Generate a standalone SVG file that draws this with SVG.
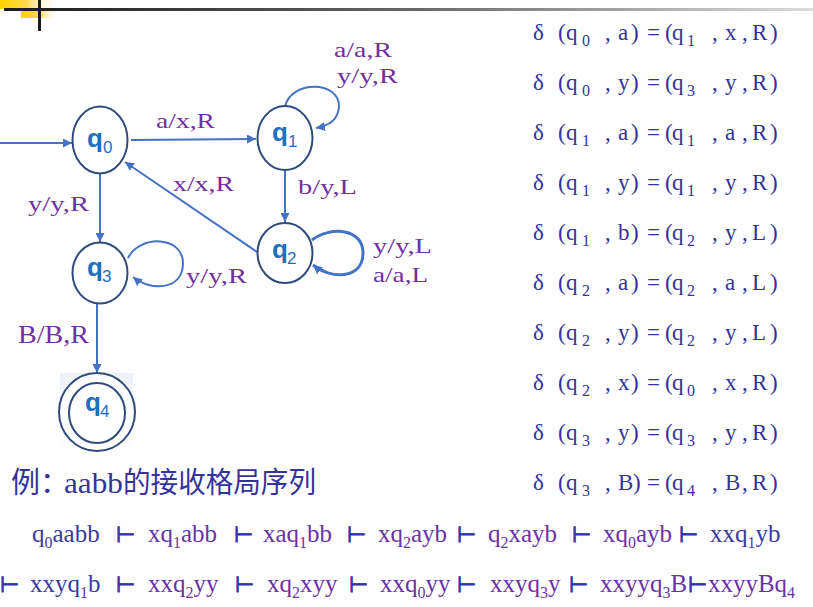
<svg xmlns="http://www.w3.org/2000/svg" width="813" height="607" viewBox="0 0 813 607">
<style>
.node{fill:#fff;stroke:#2f4b7c;stroke-width:2}
.edge{fill:none;stroke:#4472c4;stroke-width:2}
.nl{font-family:"Liberation Sans",Arial,sans-serif;font-weight:bold;font-size:26px;fill:#1f6fc0}
.ns{font-family:"Liberation Sans",Arial,sans-serif;font-weight:normal;font-size:17px;fill:#1f6fc0}
.el{font-family:"Liberation Serif","Times New Roman",serif;font-size:22px;fill:#7030a0}
.tb{font-family:"Liberation Serif","DejaVu Serif",serif;font-size:23px;fill:#33339a}
.tb .sb{font-size:16px}
.cf{font-family:"Liberation Serif","Times New Roman",serif;font-size:25px}
.cf .sb{font-size:16px}
.bl{fill:#3a3aa0}
.pu{fill:#6a32a6}
.ts{font-family:"DejaVu Sans",sans-serif;font-size:22px;fill:#3434a8;stroke:#3434a8;stroke-width:0.9}
.title{font-size:29px;fill:#33339a}
.cjk{font-family:"Noto Sans CJK SC","Liberation Serif",serif}
.lat{font-family:"Liberation Serif","Times New Roman",serif}
</style>
<defs>
<marker id="ah" markerUnits="userSpaceOnUse" markerWidth="10" markerHeight="9" refX="9" refY="4.5" orient="auto">
<path d="M0,0 L9,4.5 L0,9 z" fill="#4472c4"/>
</marker>
<linearGradient id="bar" x1="0" y1="0" x2="1" y2="0">
<stop offset="0" stop-color="#1a1a1a"/>
<stop offset="0.5" stop-color="#666"/>
<stop offset="1" stop-color="#dcdcdc"/>
</linearGradient>
<linearGradient id="yel" x1="0" y1="0" x2="1" y2="0">
<stop offset="0" stop-color="#ffd200"/>
<stop offset="0.45" stop-color="#ffd84a"/>
<stop offset="1" stop-color="#fff" stop-opacity="0"/>
</linearGradient>
<linearGradient id="fade" x1="0" y1="0" x2="0" y2="1">
<stop offset="0" stop-color="#eef1f8"/>
<stop offset="1" stop-color="#fff"/>
</linearGradient>
</defs>
<rect width="813" height="607" fill="#fff"/>
<g id="decor">
<rect x="0" y="0" width="58" height="9" fill="url(#yel)"/>
<rect x="21" y="9" width="38" height="9" fill="url(#yel)"/>
<rect x="4" y="8" width="809" height="3" fill="url(#bar)"/>
<rect x="38" y="0" width="3" height="31" fill="#1a1a1a"/>
</g>
<g id="connectors">
<path class="edge" d="M0,143 L72,143" marker-end="url(#ah)"/>
<path class="edge" d="M131,140 L256,139" marker-end="url(#ah)"/>
<path class="edge" d="M285,107 C290,80 340,80 339,107 C338,120 328,126 316,128" marker-end="url(#ah)"/>
<path class="edge" d="M285,170 L285,222" marker-end="url(#ah)"/>
<path class="edge" d="M257,252 L125,162" marker-end="url(#ah)"/>
<path class="edge" style="stroke-width:3" d="M312,240 C330,226 364,228 363,254 C362,280 330,279 313,265" marker-end="url(#ah)"/>
<path class="edge" d="M100,174 L100,242" marker-end="url(#ah)"/>
<path class="edge" d="M128,258 C140,234 184,236 183,264 C182,291 150,291 133,277" marker-end="url(#ah)"/>
<path class="edge" d="M97,304 L97,373" marker-end="url(#ah)"/>
</g>
<g id="edge-labels">
<text class="el" x="334" y="57" textLength="58" lengthAdjust="spacingAndGlyphs">a/a,R</text>
<text class="el" x="337" y="83" textLength="61" lengthAdjust="spacingAndGlyphs">y/y,R</text>
<text class="el" x="156" y="128" textLength="59" lengthAdjust="spacingAndGlyphs">a/x,R</text>
<text class="el" x="173" y="191" textLength="61" lengthAdjust="spacingAndGlyphs">x/x,R</text>
<text class="el" x="298" y="194" textLength="59" lengthAdjust="spacingAndGlyphs">b/y,L</text>
<text class="el" x="28" y="211" textLength="61" lengthAdjust="spacingAndGlyphs">y/y,R</text>
<text class="el" x="186" y="283" textLength="61" lengthAdjust="spacingAndGlyphs">y/y,R</text>
<text class="el" x="373" y="253" textLength="59" lengthAdjust="spacingAndGlyphs">y/y,L</text>
<text class="el" x="373" y="282" textLength="55" lengthAdjust="spacingAndGlyphs">a/a,L</text>
<text class="el" x="18" y="343" style="font-size:26px" textLength="71" lengthAdjust="spacingAndGlyphs">B/B,R</text>
</g>
<g id="q0">
<ellipse class="node" cx="100" cy="140" rx="27.5" ry="33.5"/>
<text class="nl" x="87" y="147">q<tspan class="ns" x="103" y="153">0</tspan></text>
</g>
<g id="q1">
<ellipse class="node" cx="285" cy="138" rx="27.5" ry="32"/>
<text class="nl" x="272" y="141">q<tspan class="ns" x="288" y="147">1</tspan></text>
</g>
<g id="q2">
<ellipse class="node" cx="285" cy="253" rx="27.5" ry="30"/>
<text class="nl" x="272" y="258">q<tspan class="ns" x="287" y="264">2</tspan></text>
</g>
<g id="q3">
<ellipse class="node" cx="100" cy="273" rx="27.5" ry="30.5"/>
<text class="nl" x="87" y="276">q<tspan class="ns" x="102" y="282">3</tspan></text>
</g>
<g id="q4">
<rect x="60" y="373" width="73" height="78" fill="url(#fade)"/>
<ellipse class="node" cx="97" cy="412" rx="38" ry="39"/>
<ellipse class="node" cx="97" cy="413" rx="28" ry="30" fill="none"/>
<text class="nl" x="85" y="411">q<tspan class="ns" x="100" y="417">4</tspan></text>
</g>
<g id="delta-table" class="tb">
<text y="40"><tspan x="533">δ</tspan><tspan x="558">(</tspan><tspan x="566">q</tspan><tspan class="sb" x="582" y="46">0</tspan><tspan x="605" y="40">,</tspan><tspan x="618">a</tspan><tspan x="631">)</tspan><tspan x="647">=</tspan><tspan x="665">(</tspan><tspan x="672">q</tspan><tspan class="sb" x="687" y="46">1</tspan><tspan x="712" y="40">,</tspan><tspan x="725">x</tspan><tspan x="742">,</tspan><tspan x="752">R</tspan><tspan x="770">)</tspan></text>
<text y="90"><tspan x="533">δ</tspan><tspan x="558">(</tspan><tspan x="566">q</tspan><tspan class="sb" x="582" y="96">0</tspan><tspan x="605" y="90">,</tspan><tspan x="618">y</tspan><tspan x="631">)</tspan><tspan x="647">=</tspan><tspan x="665">(</tspan><tspan x="672">q</tspan><tspan class="sb" x="687" y="96">3</tspan><tspan x="712" y="90">,</tspan><tspan x="725">y</tspan><tspan x="742">,</tspan><tspan x="752">R</tspan><tspan x="770">)</tspan></text>
<text y="140"><tspan x="533">δ</tspan><tspan x="558">(</tspan><tspan x="566">q</tspan><tspan class="sb" x="582" y="146">1</tspan><tspan x="605" y="140">,</tspan><tspan x="618">a</tspan><tspan x="631">)</tspan><tspan x="647">=</tspan><tspan x="665">(</tspan><tspan x="672">q</tspan><tspan class="sb" x="687" y="146">1</tspan><tspan x="712" y="140">,</tspan><tspan x="725">a</tspan><tspan x="742">,</tspan><tspan x="752">R</tspan><tspan x="770">)</tspan></text>
<text y="190"><tspan x="533">δ</tspan><tspan x="558">(</tspan><tspan x="566">q</tspan><tspan class="sb" x="582" y="196">1</tspan><tspan x="605" y="190">,</tspan><tspan x="618">y</tspan><tspan x="631">)</tspan><tspan x="647">=</tspan><tspan x="665">(</tspan><tspan x="672">q</tspan><tspan class="sb" x="687" y="196">1</tspan><tspan x="712" y="190">,</tspan><tspan x="725">y</tspan><tspan x="742">,</tspan><tspan x="752">R</tspan><tspan x="770">)</tspan></text>
<text y="240"><tspan x="533">δ</tspan><tspan x="558">(</tspan><tspan x="566">q</tspan><tspan class="sb" x="582" y="246">1</tspan><tspan x="605" y="240">,</tspan><tspan x="618">b</tspan><tspan x="631">)</tspan><tspan x="647">=</tspan><tspan x="665">(</tspan><tspan x="672">q</tspan><tspan class="sb" x="687" y="246">2</tspan><tspan x="712" y="240">,</tspan><tspan x="725">y</tspan><tspan x="742">,</tspan><tspan x="752">L</tspan><tspan x="770">)</tspan></text>
<text y="290"><tspan x="533">δ</tspan><tspan x="558">(</tspan><tspan x="566">q</tspan><tspan class="sb" x="582" y="296">2</tspan><tspan x="605" y="290">,</tspan><tspan x="618">a</tspan><tspan x="631">)</tspan><tspan x="647">=</tspan><tspan x="665">(</tspan><tspan x="672">q</tspan><tspan class="sb" x="687" y="296">2</tspan><tspan x="712" y="290">,</tspan><tspan x="725">a</tspan><tspan x="742">,</tspan><tspan x="752">L</tspan><tspan x="770">)</tspan></text>
<text y="340"><tspan x="533">δ</tspan><tspan x="558">(</tspan><tspan x="566">q</tspan><tspan class="sb" x="582" y="346">2</tspan><tspan x="605" y="340">,</tspan><tspan x="618">y</tspan><tspan x="631">)</tspan><tspan x="647">=</tspan><tspan x="665">(</tspan><tspan x="672">q</tspan><tspan class="sb" x="687" y="346">2</tspan><tspan x="712" y="340">,</tspan><tspan x="725">y</tspan><tspan x="742">,</tspan><tspan x="752">L</tspan><tspan x="770">)</tspan></text>
<text y="390"><tspan x="533">δ</tspan><tspan x="558">(</tspan><tspan x="566">q</tspan><tspan class="sb" x="582" y="396">2</tspan><tspan x="605" y="390">,</tspan><tspan x="618">x</tspan><tspan x="631">)</tspan><tspan x="647">=</tspan><tspan x="665">(</tspan><tspan x="672">q</tspan><tspan class="sb" x="687" y="396">0</tspan><tspan x="712" y="390">,</tspan><tspan x="725">x</tspan><tspan x="742">,</tspan><tspan x="752">R</tspan><tspan x="770">)</tspan></text>
<text y="440"><tspan x="533">δ</tspan><tspan x="558">(</tspan><tspan x="566">q</tspan><tspan class="sb" x="582" y="446">3</tspan><tspan x="605" y="440">,</tspan><tspan x="618">y</tspan><tspan x="631">)</tspan><tspan x="647">=</tspan><tspan x="665">(</tspan><tspan x="672">q</tspan><tspan class="sb" x="687" y="446">3</tspan><tspan x="712" y="440">,</tspan><tspan x="725">y</tspan><tspan x="742">,</tspan><tspan x="752">R</tspan><tspan x="770">)</tspan></text>
<text y="490"><tspan x="533">δ</tspan><tspan x="558">(</tspan><tspan x="566">q</tspan><tspan class="sb" x="582" y="496">3</tspan><tspan x="605" y="490">,</tspan><tspan x="618">B</tspan><tspan x="633">)</tspan><tspan x="647">=</tspan><tspan x="665">(</tspan><tspan x="672">q</tspan><tspan class="sb" x="687" y="496">4</tspan><tspan x="712" y="490">,</tspan><tspan x="725">B</tspan><tspan x="742">,</tspan><tspan x="752">R</tspan><tspan x="770">)</tspan></text>
</g>
<g id="title">
<text class="title" y="493"><tspan class="cjk" x="11">例：</tspan><tspan class="lat" x="64" textLength="59" lengthAdjust="spacingAndGlyphs">aabb</tspan><tspan class="cjk" x="123" textLength="193" lengthAdjust="spacingAndGlyphs">的接收格局序列</tspan></text>
</g>
<g id="configs" class="cf">
<text class="bl" x="32" y="542">q<tspan class="sb" dy="6">0</tspan><tspan dy="-6">aabb</tspan></text>
<text class="ts" x="116" y="542">⊢</text>
<text class="pu" x="148" y="542">xq<tspan class="sb" dy="6">1</tspan><tspan dy="-6">abb</tspan></text>
<text class="ts" x="234" y="542">⊢</text>
<text class="pu" x="263" y="542">xaq<tspan class="sb" dy="6">1</tspan><tspan dy="-6">bb</tspan></text>
<text class="ts" x="347" y="542">⊢</text>
<text class="pu" x="378" y="542">xq<tspan class="sb" dy="6">2</tspan><tspan dy="-6">ayb</tspan></text>
<text class="ts" x="457" y="542">⊢</text>
<text class="pu" x="488" y="542">q<tspan class="sb" dy="6">2</tspan><tspan dy="-6">xayb</tspan></text>
<text class="ts" x="572" y="542">⊢</text>
<text class="pu" x="603" y="542">xq<tspan class="sb" dy="6">0</tspan><tspan dy="-6">ayb</tspan></text>
<text class="ts" x="679" y="542">⊢</text>
<text class="bl" x="710" y="542">xxq<tspan class="sb pu" dy="6">1</tspan><tspan dy="-6">yb</tspan></text>
<text class="ts" x="0" y="592">⊢</text>
<text class="bl" x="30" y="592">xxyq<tspan class="sb pu" dy="6">1</tspan><tspan dy="-6">b</tspan></text>
<text class="ts" x="116" y="592">⊢</text>
<text class="pu" x="148" y="592">xxq<tspan class="sb" dy="6">2</tspan><tspan dy="-6">yy</tspan></text>
<text class="ts" x="235" y="592">⊢</text>
<text class="pu" x="267" y="592">xq<tspan class="sb" dy="6">2</tspan><tspan dy="-6">xyy</tspan></text>
<text class="ts" x="349" y="592">⊢</text>
<text class="pu" x="380" y="592">xxq<tspan class="sb" dy="6">0</tspan><tspan dy="-6">yy</tspan></text>
<text class="ts" x="457" y="592">⊢</text>
<text class="pu" x="490" y="592">xxyq<tspan class="sb" dy="6">3</tspan><tspan dy="-6">y</tspan></text>
<text class="ts" x="569" y="592">⊢</text>
<text class="pu" x="600" y="592">xxyyq<tspan class="sb" dy="6">3</tspan><tspan dy="-6">B</tspan></text>
<text class="ts" x="688" y="592">⊢</text>
<text class="pu" x="708" y="592" textLength="87" lengthAdjust="spacingAndGlyphs">xxyyBq<tspan class="sb" dy="6">4</tspan></text>
</g>
</svg>
